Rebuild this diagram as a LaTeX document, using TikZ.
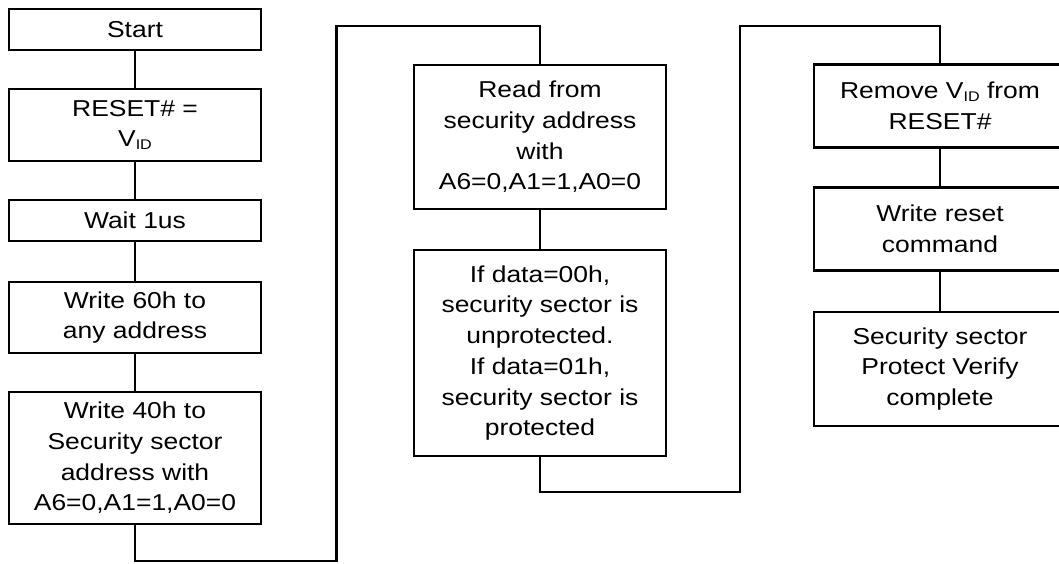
\documentclass[tikz,border=0pt]{standalone}
\usepackage{fontspec}
\setmainfont{Liberation Sans}[FakeStretch=1.15]
\newcommand\subID{\raisebox{-3pt}{\fontsize{14}{14}\selectfont ID}}
\tikzset{
  box/.style={draw, line width=2.2pt, minimum width=252pt, align=center,
    inner sep=0pt, font=\fontsize{23}{30.7}\selectfont},
  link/.style={line width=2.2pt},
  route/.style={line width=2.8pt, line join=miter},
}
\begin{document}
\begin{tikzpicture}[x=1pt, y=-1pt]
\useasboundingbox (0,0) rectangle (1059,563);
\clip (0,0) rectangle (1059,563);

% first column
\node[box, minimum height=41pt]  (start) at (135,29.5)  {Start};
\node[box, minimum height=72pt]  (vid)   at (135,125)   {RESET\# =\\V\subID};
\node[box, minimum height=41pt]  (wait)  at (135,220.5) {Wait 1us};
\node[box, minimum height=71pt]  (w60)   at (135,317.5) {Write 60h to\\any address};
\node[box, minimum height=132pt] (w40)   at (135,458)   {Write 40h to\\Security sector\\address with\\A6=0,A1=1,A0=0};

% second column
\node[box, minimum height=144pt] (read)  at (540,137)   {Read from\\security address\\with\\A6=0,A1=1,A0=0};
\node[box, minimum height=206pt] (check) at (540,353)   {If data=00h,\\security sector is\\unprotected.\\If data=01h,\\security sector is\\protected};

% third column
\node[box, minimum height=83pt]  (rem)   at (940,106)   {Remove V\subID{} from\\RESET\#};
\node[box, minimum height=83pt]  (wrst)  at (940,229)   {Write reset\\command};
\node[box, minimum height=114pt] (done)  at (940,369)   {Security sector\\Protect Verify\\complete};

% straight links
\draw[link] (start) -- (vid);
\draw[link] (vid) -- (wait);
\draw[link] (wait) -- (w60);
\draw[link] (w60) -- (w40);
\draw[link] (read) -- (check);
\draw[link] (rem) -- (wrst);
\draw[link] (wrst) -- (done);

% column-to-column routes
\coordinate (b1) at (135,561);
\coordinate (b2) at (336.5,561);
\coordinate (t1) at (336.5,26);
\coordinate (t2) at (540,26);
\draw[route] (w40.south) -- (b1) -- (b2) -- (t1) -- (t2) -- (read.north);

\coordinate (b3) at (540,492);
\coordinate (b4) at (740,492);
\coordinate (t3) at (740,26);
\coordinate (t4) at (940,26);
\draw[route] (check.south) -- (b3) -- (b4) -- (t3) -- (t4) -- (rem.north);
\end{tikzpicture}
\end{document}
